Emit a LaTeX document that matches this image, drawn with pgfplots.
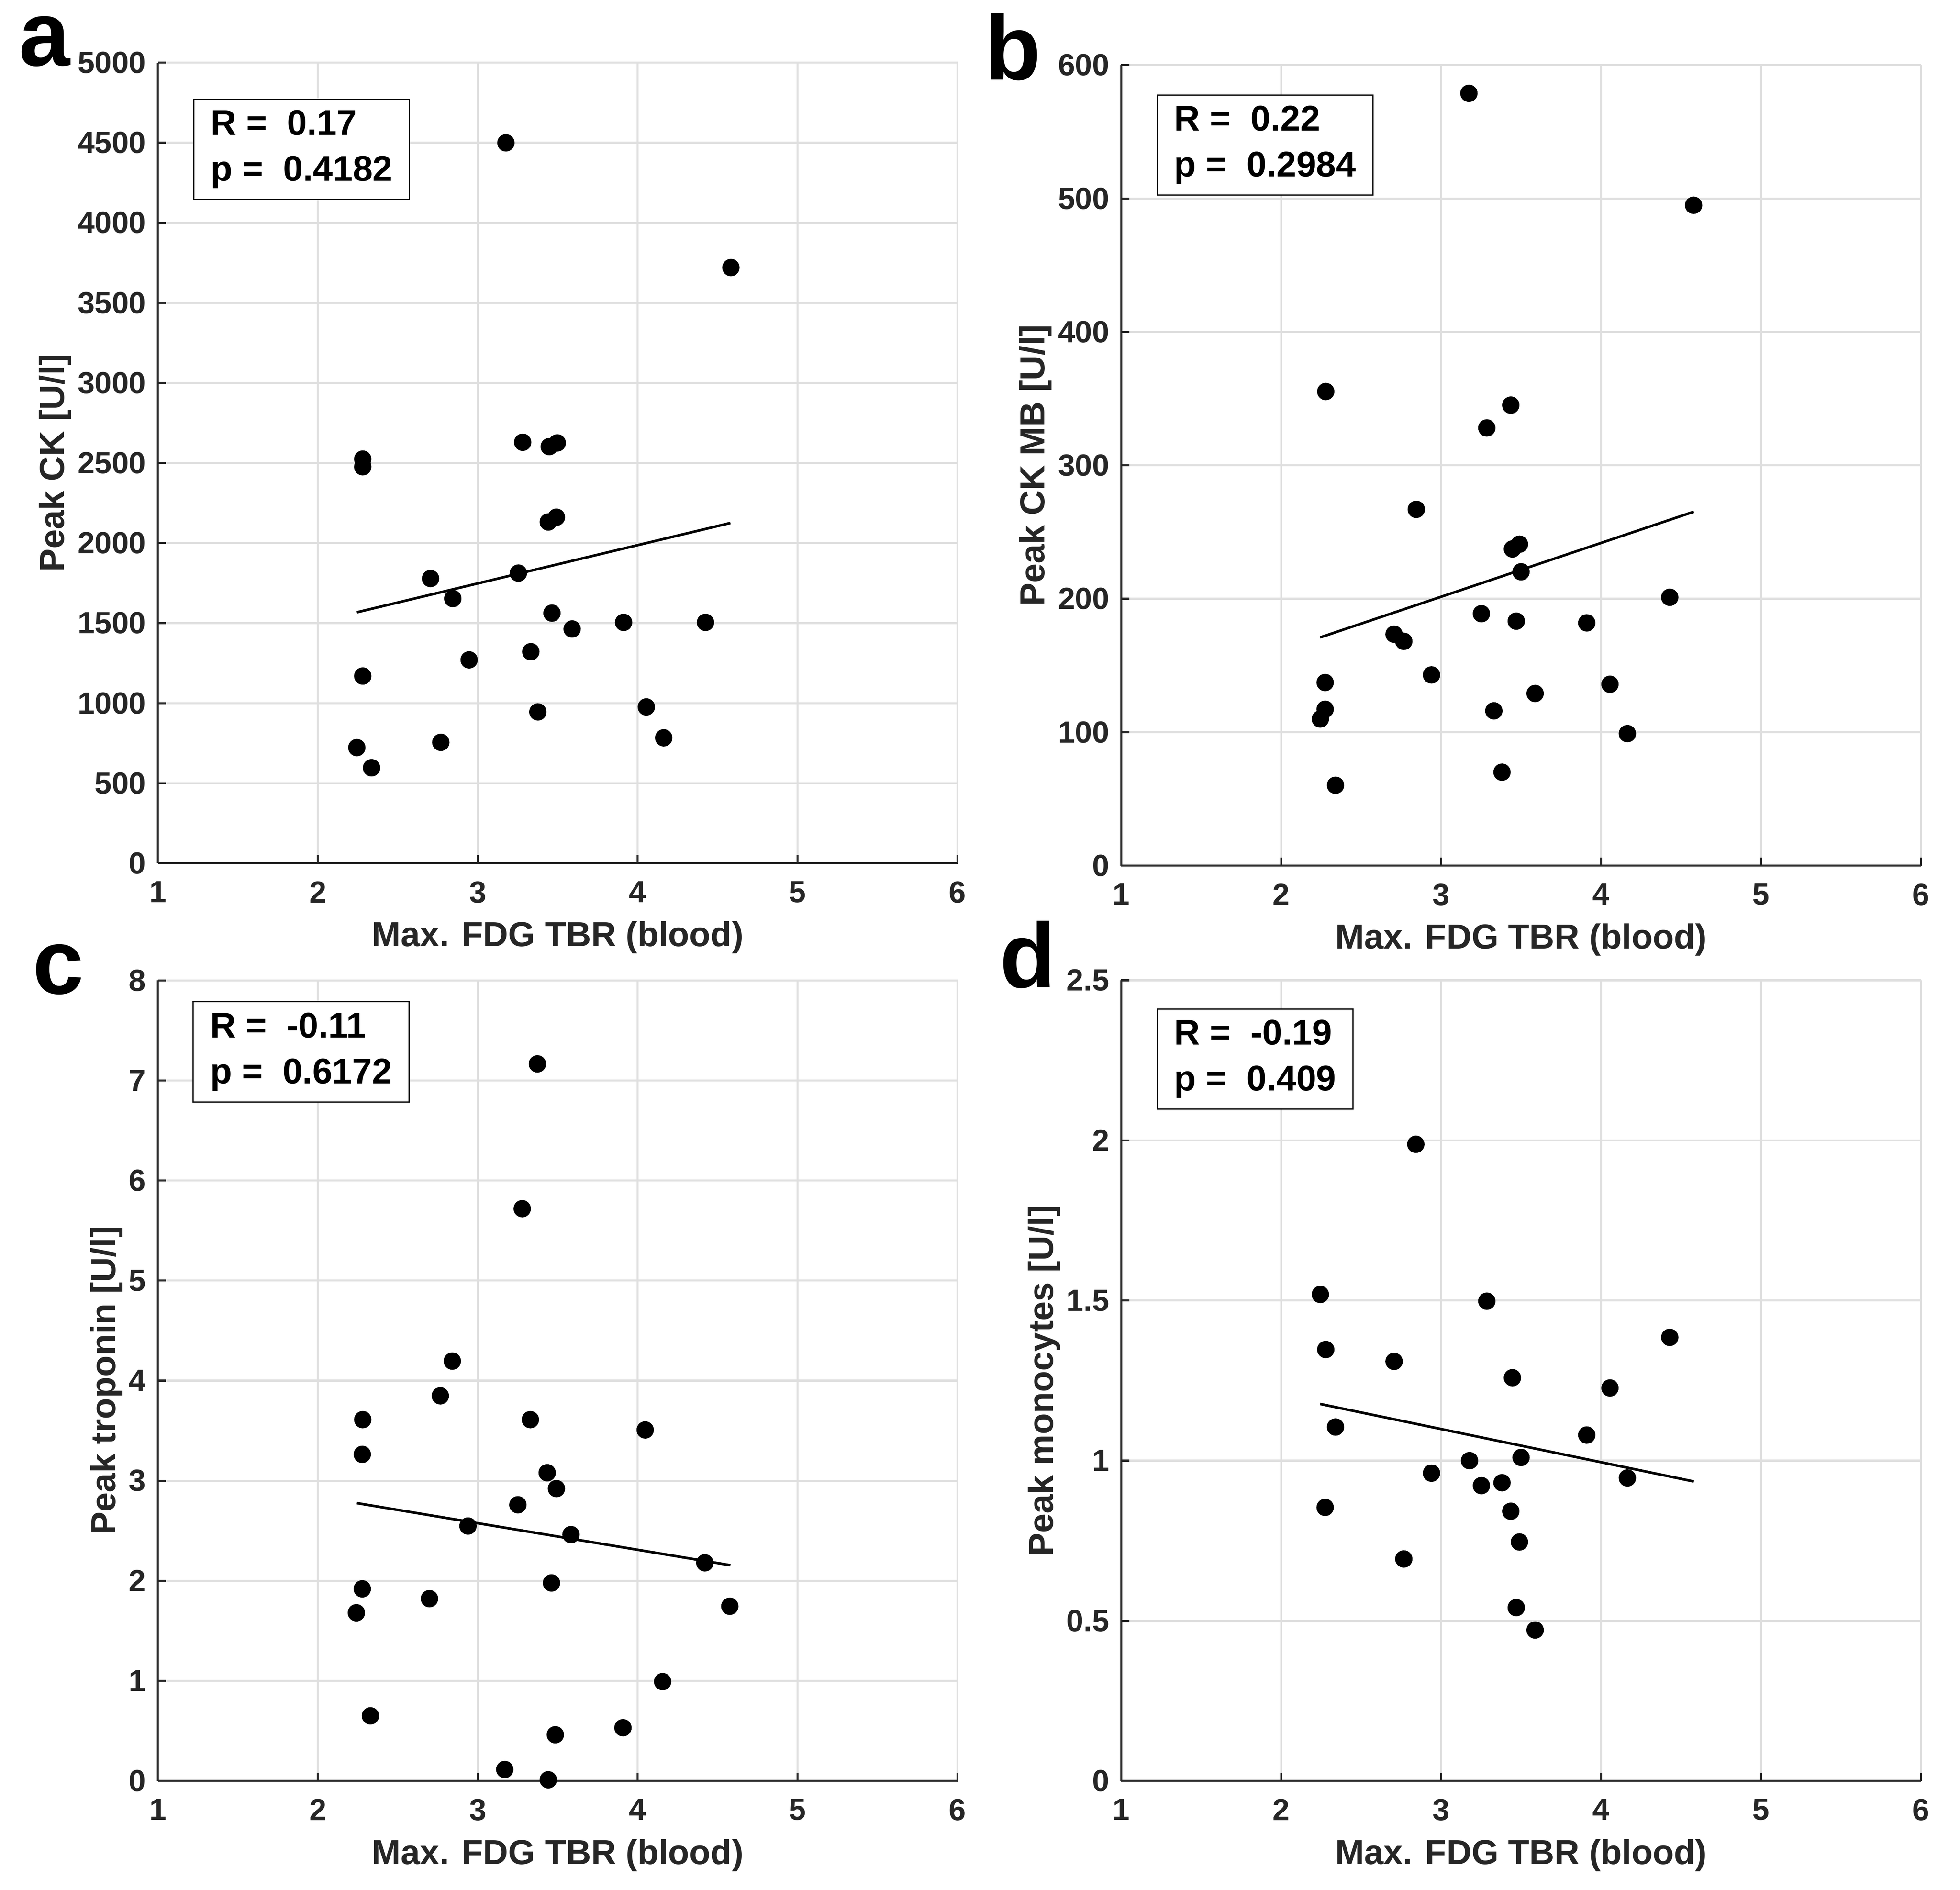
\documentclass[border=0pt]{standalone}
\usepackage{fontspec}
\setmainfont{Liberation Sans}
\usepackage{pgfplots}
\pgfplotsset{compat=1.18}
\definecolor{axgray}{RGB}{38,38,38}
\definecolor{gridgray}{RGB}{223,223,223}
\pgfplotsset{
  myax/.style={
    width=235pt, height=235.2pt, scale only axis,
    xmin=1, xmax=6, xtick={1,2,3,4,5,6},
    axis lines*=left, axis line style={axgray, line width=0.6pt, -},
    grid=major, major grid style={gridgray, line width=0.6pt},
    tick align=inside, tick pos=left, major tick length=2.35pt,
    tick style={axgray, line width=0.6pt},
    ticklabel style={font=\fontsize{9}{10}\selectfont\bfseries, text=axgray},
    xticklabel style={yshift=-1.8pt},
    /pgf/number format/assume math mode=true,
    /pgf/number format/1000 sep={},
    scaled ticks=false,
    label style={font=\fontsize{10.2}{12}\selectfont\bfseries, text=axgray},
    ylabel shift=-5pt,
    xlabel shift=-1.5pt,
    xlabel={Max. FDG TBR (blood)},
  },
  pts/.style={only marks, mark=*, mark size=2.35pt, black},
  fit/.style={black, line width=0.75pt, no marks},
}
\tikzset{
  stat/.style={draw=black, fill=white, line width=0.35pt, anchor=north west, align=left,
    inner xsep=5pt, inner ysep=3.2pt, font=\fontsize{10.5}{13.5}\selectfont\bfseries},
}
\begin{document}
\begin{tikzpicture}
\path (0,0) rectangle (576pt,-555.2pt);
% panel a
\begin{axis}[myax, at={(46.4pt,-253.6pt)}, anchor=south west,
  ymin=0, ymax=5000, ytick={0,500,...,5000}, ylabel={Peak CK [U/l]}]
\addplot[pts] coordinates {
(3.176,4499) (4.583,3720) (2.281,2524) (2.281,2476) (3.281,2629) (3.447,2602)
(3.497,2625) (3.441,2131) (3.492,2161) (2.705,1778) (3.254,1812) (2.844,1653)
(3.464,1562) (3.590,1463) (3.912,1504) (4.424,1504) (2.946,1270) (3.332,1321)
(2.281,1169) (3.376,945) (4.054,976) (4.163,783) (2.244,722) (2.769,755) (2.336,596)};
\addplot[fit] coordinates {(2.244,1567) (4.58,2125)};
\node[stat] at (rel axis cs:0.0442,0.955) {R =\ \ 0.17\\p =\ \ 0.4182};
\end{axis}
% panel b
\begin{axis}[myax, at={(329.5pt,-254.3pt)}, anchor=south west,
  ymin=0, ymax=600, ytick={0,100,...,600}, ylabel={Peak CK MB [U/l]}]
\addplot[pts] coordinates {
(3.174,578.8) (4.579,494.9) (2.279,355.3) (3.436,345.1) (3.286,328.0) (2.845,267.0)
(3.490,240.9) (3.446,237.3) (3.500,220.2) (4.430,201.1) (3.252,188.8) (3.470,183.2)
(3.911,181.9) (2.706,173.4) (2.767,168.1) (2.940,142.9) (2.275,137.2) (4.056,135.9)
(3.588,129.0) (2.275,117.2) (3.330,116.0) (2.245,109.9) (4.165,98.9) (3.381,70.0) (2.340,60.2)};
\addplot[fit] coordinates {(2.244,171.0) (4.58,265.2)};
\node[stat] at (rel axis cs:0.0443,0.9634) {R =\ \ 0.22\\p =\ \ 0.2984};
\end{axis}
% panel c
\begin{axis}[myax, at={(46.4pt,-523.2pt)}, anchor=south west,
  ymin=0, ymax=8, ytick={0,1,...,8}, ylabel={Peak troponin [U/l]}]
\addplot[pts] coordinates {
(3.373,7.165) (3.278,5.718) (2.841,4.195) (2.766,3.848) (2.281,3.610) (3.329,3.610)
(4.047,3.507) (2.278,3.263) (3.434,3.079) (3.492,2.921) (3.251,2.759) (2.939,2.547)
(3.583,2.461) (4.420,2.179) (3.461,1.978) (2.278,1.919) (2.698,1.821) (4.576,1.745)
(2.241,1.680) (4.156,0.992) (2.329,0.650) (3.908,0.531) (3.485,0.461) (3.169,0.114) (3.441,0.011)};
\addplot[fit] coordinates {(2.244,2.776) (4.58,2.155)};
\node[stat] at (rel axis cs:0.0434,0.974) {R =\ \ -0.11\\p =\ \ 0.6172};
\end{axis}
% panel d
\begin{axis}[myax, at={(329.5pt,-523.2pt)}, anchor=south west,
  ymin=0, ymax=2.5, ytick={0,0.5,1,1.5,2,2.5}, ylabel={Peak monocytes [U/l]}]
\addplot[pts] coordinates {
(2.842,1.988) (2.245,1.519) (3.286,1.498) (4.430,1.385) (2.279,1.347) (2.706,1.310)
(3.446,1.259) (4.056,1.227) (2.340,1.105) (3.911,1.080) (3.178,1.000) (3.500,1.010)
(2.940,0.961) (4.165,0.946) (3.381,0.931) (3.252,0.922) (2.275,0.854) (3.436,0.842)
(3.490,0.746) (2.767,0.693) (3.470,0.541) (3.588,0.471)};
\addplot[fit] coordinates {(2.244,1.177) (4.58,0.935)};
\node[stat] at (rel axis cs:0.0443,0.965) {R =\ \ -0.19\\p =\ \ 0.409};
\end{axis}
% panel letters
\begin{scope}[every node/.style={anchor=north west, inner sep=0pt, font=\fontsize{27}{30}\selectfont\bfseries}]
\node at (5.4pt,-4.6pt) {a};
\node at (289.2pt,-3.7pt) {b};
\node at (9.4pt,-277.2pt) {c};
\node at (293.6pt,-270.4pt) {d};
\end{scope}
\end{tikzpicture}
\end{document}
